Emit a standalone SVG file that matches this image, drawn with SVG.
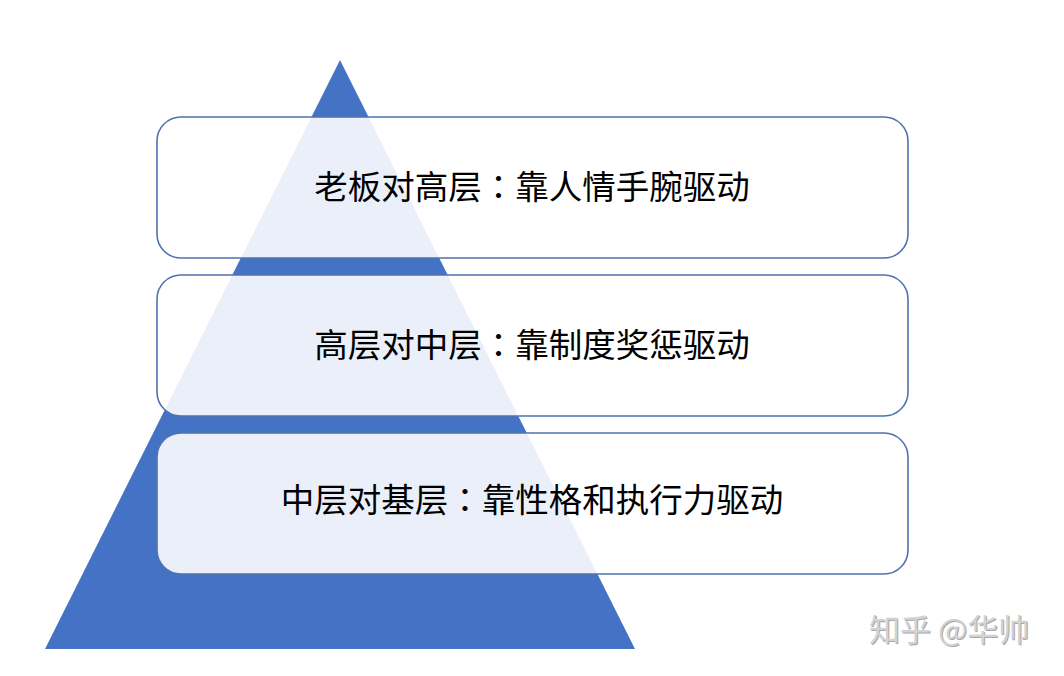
<svg xmlns="http://www.w3.org/2000/svg" width="1064" height="676" viewBox="0 0 1064 676">
<style>
.box{fill:#ffffff;fill-opacity:0.89;stroke:#4f72b0;stroke-width:1.6}
.t{font-family:"Noto Sans CJK SC","Noto Sans",sans-serif;font-size:33.5px;fill:#000;text-anchor:middle}
.c{font-family:"Noto Sans CJK TC","Noto Sans CJK SC",sans-serif}
.wm{font-family:"Noto Sans CJK SC","Noto Sans",sans-serif;font-size:31px;fill:#d2d2d2}
.wms{fill:#a8a8a8}
</style>
<rect width="1064" height="676" fill="#ffffff"/>
<g id="pyramid"><polygon points="340,60 635,649 45,649" fill="#4472c4"/></g>
<g id="node1"><rect class="box" x="157" y="117" width="751" height="141" rx="24"/><text class="t" x="532" y="199">老板对高层<tspan class="c">：</tspan>靠人情手腕驱动</text></g>
<g id="node2"><rect class="box" x="157" y="275" width="751" height="141" rx="24"/><text class="t" x="532" y="357">高层对中层<tspan class="c">：</tspan>靠制度奖惩驱动</text></g>
<g id="node3"><rect class="box" x="157" y="433" width="751" height="141" rx="24"/><text class="t" x="532" y="512">中层对基层<tspan class="c">：</tspan>靠性格和执行力驱动</text></g>
<g id="connectors"/>
<g id="watermark"><text class="wm wms" x="870" y="642">知乎 @华帅</text><text class="wm" x="869" y="641">知乎 @华帅</text></g>
</svg>
